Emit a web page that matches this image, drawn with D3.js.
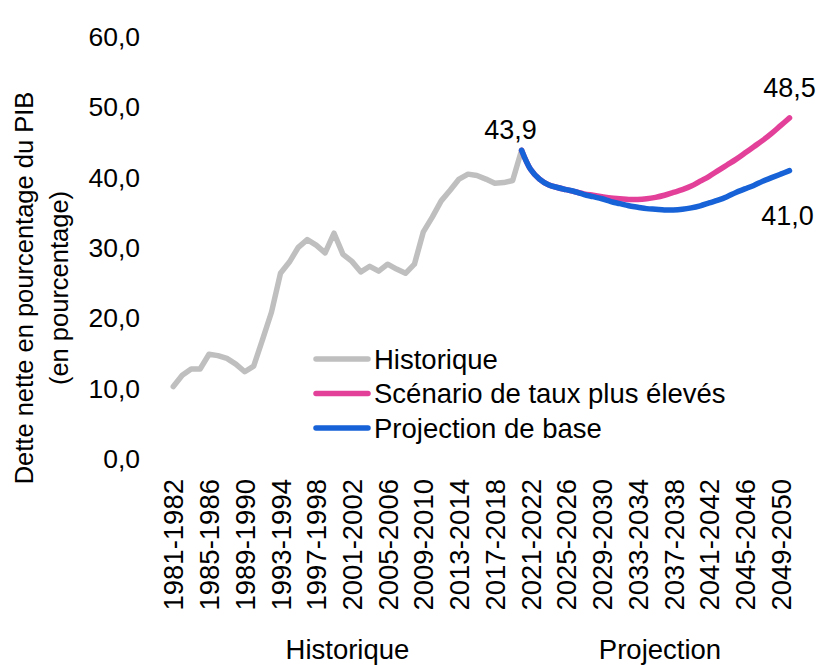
<!DOCTYPE html>
<html lang="fr">
<head>
<meta charset="utf-8">
<script src="https://cdn.jsdelivr.net/npm/d3@7"></script>
<style>
  html, body { margin: 0; padding: 0; background: #fff; }
  svg { display: block; font-family: "Liberation Sans", Arial, sans-serif; }
</style>
</head>
<body>
<div id="chart"></div>
<script>
// fiscal years 1981-1982 ... 2050-2051
const categories = d3.range(1981, 2051).map(y => y + "-" + (y + 1));

const historique = [
  10.3, 11.9, 12.8, 12.8, 14.9, 14.7, 14.3, 13.5, 12.4, 13.2,
  17.0, 20.9, 26.4, 28.0, 30.1, 31.2, 30.4, 29.3, 32.1, 29.1,
  28.1, 26.6, 27.4, 26.7, 27.7, 27.0, 26.4, 27.7, 32.3, 34.4,
  36.7, 38.2, 39.8, 40.5, 40.3, 39.8, 39.2, 39.3, 39.6, 43.9
];

// projections start at the last historical year
const projectionStart = "2020-2021";
const projectionBase = [
  43.9, 41.2, 39.8, 39.0, 38.6, 38.3, 38.0, 37.6, 37.3, 37.0,
  36.6, 36.3, 36.0, 35.8, 35.6, 35.5, 35.4, 35.4, 35.5, 35.7,
  36.0, 36.4, 36.8, 37.3, 37.9, 38.4, 38.9, 39.5, 40.0, 40.5, 41.0
];
const tauxPlusEleves = [
  43.9, 41.2, 39.8, 39.0, 38.6, 38.3, 38.0, 37.7, 37.5, 37.3,
  37.1, 37.0, 36.9, 36.9, 37.0, 37.2, 37.5, 37.9, 38.3, 38.8,
  39.5, 40.2, 41.0, 41.8, 42.6, 43.5, 44.4, 45.3, 46.3, 47.4, 48.5
];

const yTicks = [0, 10, 20, 30, 40, 50, 60];
const xTickLabels = categories.filter((d, i) => i % 4 === 0);
const groupNames = ["Historique", "Projection"];
const groupRanges = [["1981-1982", "2020-2021"], ["2021-2022", "2050-2051"]];

const width = 817;
const height = 665;
const grey = "#BFBFBF";
const pink = "#E3409A";
const blue = "#1662D6";

const fr = d3.formatLocale({ decimal: ",", thousands: " ", grouping: [3], currency: ["", " $"] });
const fmt = fr.format(".1f");

const svg = d3.select("#chart")
  .append("svg")
  .attr("width", width)
  .attr("height", height)
  .style("background", "#fff");

const x = d3.scalePoint().domain(categories).range([173.3, 789.5]);
const y = d3.scaleLinear().domain([0, 60]).range([459, 37]);

// y axis, labels only
svg.append("g")
  .attr("transform", "translate(140,0)")
  .call(d3.axisLeft(y).tickValues(yTicks).tickFormat(fmt).tickSize(0).tickPadding(0))
  .call(g => g.select(".domain").remove())
  .attr("font-size", 26.5)
  .attr("font-family", null)
  .selectAll("text").attr("fill", "#000");

// x axis, rotated labels every 4 years
svg.append("g")
  .attr("transform", "translate(0,459)")
  .call(d3.axisBottom(x).tickValues(xTickLabels).tickSize(0))
  .call(g => g.select(".domain").remove())
  .attr("font-size", 27.5)
  .attr("font-family", null)
  .selectAll("text")
  .attr("fill", "#000")
  .attr("text-anchor", "end")
  .attr("x", -20)
  .attr("y", 0)
  .attr("dy", "0.35em")
  .attr("transform", "rotate(-90)");

// group labels under the axis
svg.append("g")
  .selectAll("text")
  .data(groupNames)
  .join("text")
  .attr("x", (d, i) => (x(groupRanges[i][0]) + x(groupRanges[i][1])) / 2)
  .attr("y", 659)
  .attr("text-anchor", "middle")
  .attr("font-size", 27.5)
  .text(d => d);

// y title
const yTitle = svg.append("g")
  .attr("transform", "translate(33,288) rotate(-90)")
  .attr("text-anchor", "middle")
  .attr("font-size", 25.5);
yTitle.append("text").attr("y", 0).text("Dette nette en pourcentage du PIB");
yTitle.append("text").attr("y", 35).text("(en pourcentage)");

const startIdx = categories.indexOf(projectionStart);

const series = [
  { name: "Historique", values: historique, offset: 0, color: grey, curve: d3.curveLinear },
  { name: "Scénario de taux plus élevés", values: tauxPlusEleves, offset: startIdx, color: pink, curve: d3.curveCatmullRom },
  { name: "Projection de base", values: projectionBase, offset: startIdx, color: blue, curve: d3.curveCatmullRom }
];

series.forEach(s => {
  const line = d3.line()
    .x((d, i) => x(categories[i + s.offset]))
    .y(d => y(d))
    .curve(s.curve);
  svg.append("path")
    .datum(s.values)
    .attr("fill", "none")
    .attr("stroke", s.color)
    .attr("stroke-width", 5.5)
    .attr("stroke-linejoin", "round")
    .attr("stroke-linecap", "round")
    .attr("d", line);
});

// data labels
const peakIdx = historique.length - 1;
const lastIdx = categories.length - 1;
const labels = [
  { v: historique[peakIdx], cx: x(categories[peakIdx]) - 11, cy: y(historique[peakIdx]) - 11 },
  { v: tauxPlusEleves[tauxPlusEleves.length - 1], cx: x(categories[lastIdx]), cy: y(tauxPlusEleves[tauxPlusEleves.length - 1]) - 21 },
  { v: projectionBase[projectionBase.length - 1], cx: x(categories[lastIdx]) - 2, cy: y(projectionBase[projectionBase.length - 1]) + 54 }
];
svg.append("g")
  .selectAll("text")
  .data(labels)
  .join("text")
  .attr("x", d => d.cx)
  .attr("y", d => d.cy)
  .attr("text-anchor", "middle")
  .attr("font-size", 27)
  .text(d => fmt(d.v));

// legend
const legend = svg.append("g")
  .attr("transform", "translate(316,359)")
  .selectAll("g")
  .data(series)
  .join("g")
  .attr("transform", (d, i) => "translate(0," + i * 34.5 + ")");
legend.append("line")
  .attr("x1", 0)
  .attr("x2", 52)
  .attr("stroke", d => d.color)
  .attr("stroke-width", 5.5)
  .attr("stroke-linecap", "round");
legend.append("text")
  .attr("x", 58)
  .attr("dy", "0.35em")
  .attr("font-size", 27.5)
  .text(d => d.name);
</script>
</body>
</html>
